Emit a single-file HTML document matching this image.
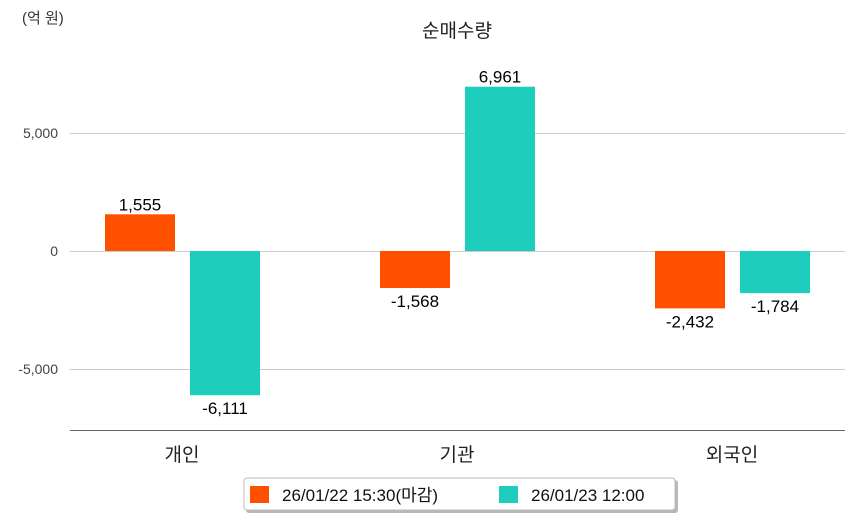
<!DOCTYPE html>
<html><head><meta charset="utf-8"><style>
body{margin:0;background:#fff;}
svg{font-family:"Liberation Sans","Noto Sans CJK KR",sans-serif;}
</style></head><body>
<svg id="c" width="854" height="520">
<text x="22" y="23" font-size="15" fill="#333">(억 원)</text>
<text x="457" y="37" font-size="19" text-anchor="middle" fill="#222">순매수량</text>
<g id="grid"></g><g id="bars"></g>
<line x1="70" y1="430.5" x2="845" y2="430.5" stroke="#666"/>
<g>
<rect x="246" y="480" width="432" height="33" rx="3" fill="#888" opacity="0.6"/>
<rect x="244" y="478" width="431" height="32" rx="3" fill="#fff" stroke="#bbb"/>
<rect x="250" y="486" width="19" height="17" fill="#ff5000"/>
<text x="282" y="501" font-size="17" fill="#111">26/01/22 15:30(마감)</text>
<rect x="499" y="486" width="19" height="17" fill="#1ecdbc"/>
<text x="531" y="501" font-size="17" fill="#111">26/01/23 12:00</text>
</g>
</svg>
<script>
const categories=["개인","기관","외국인"];
const series1=[1555,-1568,-2432];
const series2=[-6111,6961,-1784];
const ticks=[5000,0,-5000];
const tickLabels=["5,000","0","-5,000"];
const colors=["#ff5000","#1ecdbc"];
const NS="http://www.w3.org/2000/svg";
const y=v=>251-v*118/5000;
const xc=i=>182+i*275;
function el(t,a,p){const e=document.createElementNS(NS,t);for(const k in a)e.setAttribute(k,a[k]);p.appendChild(e);return e;}
const grid=document.getElementById('grid'),bars=document.getElementById('bars');
ticks.forEach((t,i)=>{
 const l=el('line',{x1:70,x2:845,y1:Math.round(y(t))+0.5,y2:Math.round(y(t))+0.5,stroke:'#ccc'},grid);
 
 
 const tx=el('text',{x:58,y:y(t)+5,'font-size':14,'text-anchor':'end',fill:'#444'},grid);
 tx.textContent=tickLabels[i];
 
 
});
categories.forEach((c,i)=>{
 const tx=el('text',{x:xc(i),y:461,'font-size':19,'text-anchor':'middle',fill:'#222'},grid);
 tx.textContent=c;
 
 
 [series1[i],series2[i]].forEach((v,j)=>{
  const x=xc(i)-77+j*85;
  const top=Math.min(y(v),y(0)),h=Math.abs(y(v)-y(0));
  const r=el('rect',{x:x,y:top,width:70,height:h,fill:colors[j]},bars);
  
  
  const lb=el('text',{x:x+35,y:v>=0?y(v)-4:y(v)+19,'font-size':17,'text-anchor':'middle',fill:'#000'},bars);
  lb.textContent=v.toLocaleString('en-US');
  
  
 });
});
</script>
</body></html>
